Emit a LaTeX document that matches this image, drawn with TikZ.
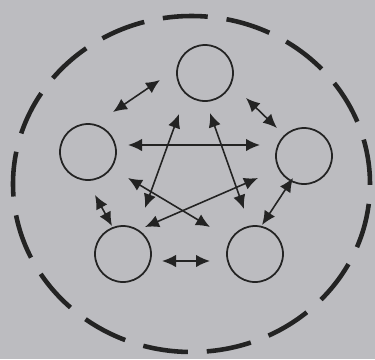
\documentclass[tikz,border=0pt]{standalone}
\usepackage{xcolor}
\usepackage{tikz}
\usetikzlibrary{arrows.meta}
\definecolor{paper}{RGB}{188,188,192}
\definecolor{ink}{RGB}{35,35,35}

\begin{document}
\begin{tikzpicture}[
    member/.style={draw=ink, circle, line width=1pt, minimum size=1.12cm, inner sep=0pt},
    link/.style={draw=ink, line width=0.9pt, {Latex[length=2.8mm,width=2.5mm]}-{Latex[length=2.8mm,width=2.5mm]}}
]
    \fill[paper] (0,0) rectangle (7.5,-7.18);
    \useasboundingbox (0,0) rectangle (7.5,-7.18);

    % group boundary
    \draw[ink, line width=2.6pt, dash pattern=on 0.9cm off 0.38cm]
        (3.83,-3.68) ellipse [x radius=3.57cm, y radius=3.36cm];

    % members
    \node[member] (top)   at (4.10,-1.46) {};
    \node[member] (left)  at (1.76,-3.04) {};
    \node[member] (right) at (6.08,-3.12) {};
    \node[member] (botL)  at (2.46,-5.08) {};
    \node[member] (botR)  at (5.10,-5.08) {};

    % arrow ends
    \coordinate (topA)   at (3.20,-1.60);
    \coordinate (topB)   at (4.92,-1.96);
    \coordinate (topC)   at (3.58,-2.28);
    \coordinate (topD)   at (4.20,-2.26);
    \coordinate (leftA)  at (2.26,-2.24);
    \coordinate (leftB)  at (2.56,-2.90);
    \coordinate (leftC)  at (2.56,-3.56);
    \coordinate (leftD)  at (1.90,-3.90);
    \coordinate (rightA) at (5.54,-2.56);
    \coordinate (rightB) at (5.20,-2.90);
    \coordinate (rightC) at (5.16,-3.56);
    \coordinate (rightD) at (5.86,-3.56);
    \coordinate (botLA)  at (2.90,-4.16);
    \coordinate (botLB)  at (2.90,-4.54);
    \coordinate (botLC)  at (2.24,-4.52);
    \coordinate (botLD)  at (3.24,-5.22);
    \coordinate (botRA)  at (4.88,-4.18);
    \coordinate (botRB)  at (4.20,-4.54);
    \coordinate (botRC)  at (5.24,-4.50);
    \coordinate (botRD)  at (4.20,-5.22);

    % neighbours
    \draw[link] (leftA) -- (topA);
    \draw[link] (topB) -- (rightA);
    \draw[link] (rightD) -- (botRC);
    \draw[link] (botLD) -- (botRD);
    \draw[link] (leftD) -- (botLC);

    % across
    \draw[link] (leftB) -- (rightB);
    \draw[link] (topC) -- (botLA);
    \draw[link] (topD) -- (botRA);
    \draw[link] (leftC) -- (botRB);
    \draw[link] (rightC) -- (botLB);
\end{tikzpicture}
\end{document}
